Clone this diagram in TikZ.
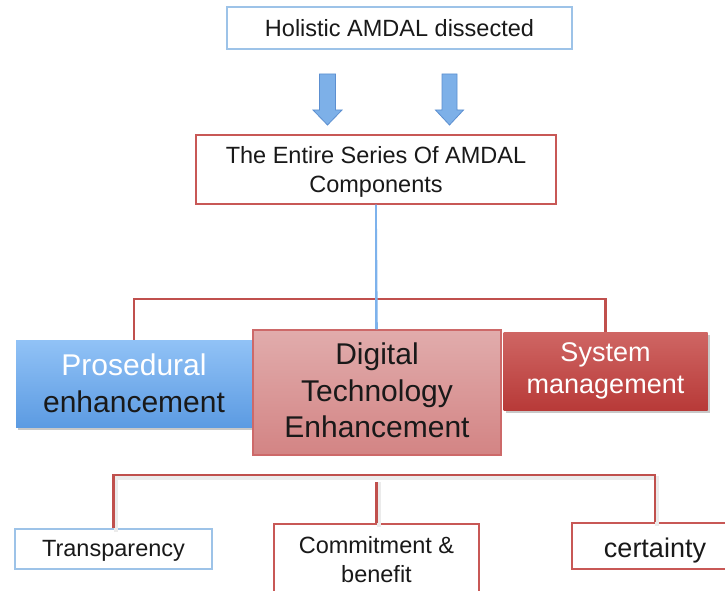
\documentclass[tikz,border=0pt]{standalone}
\usepackage{fontspec}
\setmainfont{Liberation Sans}
\usetikzlibrary{shadows}

\definecolor{edgeblue}{RGB}{157,195,232}
\definecolor{edgered}{RGB}{200,88,86}
\definecolor{barred}{RGB}{192,80,77}
\definecolor{linkblue}{RGB}{125,178,236}
\definecolor{arrowfill}{RGB}{125,176,232}
\definecolor{arrowedge}{RGB}{92,143,208}
\definecolor{prostop}{RGB}{145,194,246}
\definecolor{prosbot}{RGB}{92,155,226}
\definecolor{digtop}{RGB}{225,172,172}
\definecolor{digbot}{RGB}{211,132,132}
\definecolor{digedge}{RGB}{205,105,105}
\definecolor{systop}{RGB}{207,102,100}
\definecolor{sysbot}{RGB}{184,58,56}
\definecolor{textdark}{RGB}{25,25,25}

\begin{document}
\begin{tikzpicture}[x=1pt,y=-1pt,
  plainbox/.style={draw, line width=1.2pt, fill=white, inner sep=0pt,
    align=center, text=textdark, font=\fontsize{23.5}{29}\selectfont},
  colbox/.style={inner sep=0pt, align=center, text=textdark},
  softshadow/.style={drop shadow={shadow xshift=2pt, shadow yshift=-3pt,
    opacity=0.3, fill=black!70}},
  redbar/.style={draw=barred, line width=2.2pt},
  barshade/.style={draw=black!8, line width=4pt},
  bluelink/.style={draw=linkblue, line width=1.6pt},
  blockarrow/.style={fill=arrowfill, draw=arrowedge, line width=0.8pt}]

\clip (0,0) rectangle (725,591);
\fill[white] (0,0) rectangle (725,591);

% title and the two block arrows below it
\node[plainbox, draw=edgeblue, minimum width=345pt, minimum height=42pt,
  text depth=0pt] (top) at (399.5,28) {Holistic AMDAL dissected};

\path[blockarrow] (319.5,74) -- (335.5,74) -- (335.5,110) -- (342,110)
  -- (327.5,125) -- (313,110) -- (319.5,110) -- cycle;
\path[blockarrow] (442,74) -- (457,74) -- (457,110) -- (463.5,110)
  -- (449.5,125) -- (435.5,110) -- (442,110) -- cycle;

\node[plainbox, draw=edgered, minimum width=360pt, minimum height=69pt,
  text depth=1pt] (series) at (376,169.5)
  {The Entire Series Of AMDAL\\Components};

% bottom row of boxes
\node[plainbox, draw=edgeblue, minimum width=197pt, minimum height=40pt,
  text depth=1pt] (trans) at (113.5,549) {Transparency};
\node[plainbox, draw=edgered, minimum width=205pt, minimum height=70pt,
  text depth=0pt] (commit) at (376.5,559) {Commitment \&\\benefit};
\node[plainbox, draw=edgered, minimum width=166pt, minimum height=46pt,
  text height=22pt, text depth=0pt, font=\fontsize{27}{32}\selectfont]
  (cert) at (655,546) {certainty};

% middle row of boxes
\node[colbox, softshadow, top color=prostop, bottom color=prosbot,
  minimum width=236pt, minimum height=87pt,
  font=\fontsize{30}{37}\selectfont] (pros) at (134,383.5)
  {\textcolor{white}{Prosedural}\\enhancement};
\node[colbox, softshadow, top color=systop, bottom color=sysbot,
  minimum width=204pt, minimum height=78pt, text=white,
  font=\fontsize{27}{32}\selectfont] (sys) at (605.5,371)
  {System\\management};

% connectors
\coordinate (topbar) at (376,299);
\coordinate (botbar) at (376,475);
\coordinate (stub) at (376.5,482);

\draw[redbar] (pros.north) |- (topbar) -| (sys.north);
\draw[bluelink] (series.south) -- (376,330);

% soft shade under the lower bracket
\draw[barshade] ([xshift=2pt,yshift=-4pt]trans.north) |- ([yshift=-3pt]botbar)
  -| ([xshift=2pt,yshift=-4pt]cert.north);
\draw[barshade] ([xshift=2pt,yshift=-4pt]commit.north) -- ([xshift=2pt]stub);
\draw[redbar] (trans.north) |- (botbar) -| (cert.north);
\draw[redbar] (commit.north) -- (stub);

% centre box drawn last so it overlaps its neighbours
\node[colbox, draw=digedge, line width=1.2pt, top color=digtop,
  bottom color=digbot, minimum width=248pt, minimum height=125pt,
  text depth=4pt, font=\fontsize{30}{36.5}\selectfont] (dig) at (377,392.5)
  {Digital\\Technology\\Enhancement};
\draw[bluelink] (series.south) -- (dig.north);

\end{tikzpicture}
\end{document}
